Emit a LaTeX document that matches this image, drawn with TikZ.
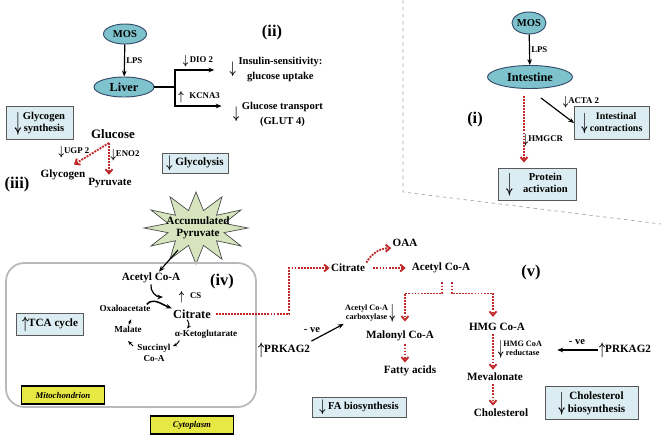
\documentclass[tikz,border=0pt]{standalone}
\usepackage{graphicx}
\usepackage{fontspec}
\setmainfont{Liberation Serif}
\usetikzlibrary{arrows.meta,calc,shapes.geometric}

\definecolor{lightblue}{rgb}{0.86,0.93,0.95}
\definecolor{organblue}{rgb}{0.49,0.76,0.80}
\definecolor{organline}{rgb}{0.20,0.30,0.42}
\definecolor{pathred}{rgb}{0.75,0.16,0.16}
\definecolor{burstgreen}{rgb}{0.84,0.90,0.74}
\definecolor{tagyellow}{rgb}{0.91,0.91,0.27}

\newcommand{\arrdn}{\raisebox{-0.15em}{\scalebox{1}[1.6]{\boldmath$\downarrow$}}}
\newcommand{\arrup}{\raisebox{-0.15em}{\scalebox{1}[1.6]{\boldmath$\uparrow$}}}
\newcommand{\bigdn}{\raisebox{-0.45em}{\scalebox{1}[2.5]{\boldmath$\downarrow$}}}
\newcommand{\twoline}[2]{\begin{tabular}{@{}c@{}}#1\\#2\end{tabular}}

\tikzset{
  labeltxt/.style={font=\bfseries\fontsize{9.5}{10.5}\selectfont, inner sep=1pt},
  tinytxt/.style={font=\bfseries\fontsize{7.5}{8.5}\selectfont, inner sep=1pt},
  cycletxt/.style={font=\bfseries\fontsize{7.8}{9}\selectfont, inner sep=1pt},
  paneltxt/.style={font=\bfseries\fontsize{14}{16}\selectfont, inner sep=1pt},
  organ/.style={shape=ellipse, draw=organline, fill=organblue, line width=0.8pt, inner sep=0pt, font=\bfseries\fontsize{10.5}{12}\selectfont},
  infobox/.style={shape=rectangle, draw=gray!70!black, fill=lightblue, line width=0.8pt, inner sep=2pt, font=\bfseries\fontsize{9}{10.5}\selectfont},
  tagbox/.style={shape=rectangle, draw=black, fill=tagyellow, line width=1.2pt, font=\bfseries\itshape\fontsize{7.5}{9}\selectfont, minimum width=2.49cm, minimum height=0.54cm},
  mitobox/.style={shape=rectangle, draw=gray!55, line width=1.5pt, rounded corners=0.55cm},
  blk/.style={-{Stealth[length=5pt,width=4pt]}, line width=1pt},
  cyc/.style={-{Stealth[length=3.5pt,width=3pt]}, line width=0.8pt},
  reddot/.style={draw=pathred, densely dotted, line width=1.6pt, -{Straight Barb[length=3.5pt,width=6pt]}},
  sepline/.style={draw=gray!70, dashed, line width=0.6pt},
}

\begin{document}
\begin{tikzpicture}[x=0.03cm, y=-0.03cm]
        % \draw (0,0) node {};
        \useasboundingbox (0,0) rectangle (661,437);
        % (ii) liver
        \node[organ, minimum width=1.29cm, minimum height=0.6cm, font=\bfseries\fontsize{9}{10}\selectfont] (mos1) at (125,34) {MOS};
        \node[organ, minimum width=1.8cm, minimum height=0.6cm] (liver) at (124,87) {Liver};
        \path [blk] (mos1) edge node[tinytxt, right] {LPS} (liver);
        \coordinate (fork) at (175,87);
        \node[paneltxt] (p2) at (272,33) {(ii)};
        \node[labeltxt, font=\bfseries\fontsize{9}{12.5}\selectfont] (ins) at (276,69) {\arrdn\ \twoline{Insulin-sensitivity:}{glucose uptake}};
        \node[labeltxt, font=\bfseries\fontsize{9}{12.5}\selectfont] (glut) at (278,114) {\arrdn\ \twoline{Glucose transport}{(GLUT 4)}};
        \node[tinytxt] (dio) at (198,61) {\arrdn\,DIO 2};
        \node[tinytxt] (kcna) at (199,97) {\arrup KCNA3};
        \draw[line width=1pt] (liver.east) -- (fork);
        \draw[blk] (fork) |- ($(ins.west)+(-14,1)$);
        \draw[blk] (fork) |- ($(glut.west)+(-10,-8)$);
        % (iii) glucose
        \node[infobox, minimum width=2.01cm, minimum height=0.99cm] (glysyn) at (40,123) {\bigdn\,\twoline{Glycogen}{synthesis}};
        \node[labeltxt, font=\bfseries\fontsize{11}{12}\selectfont] (glu) at (113,134) {Glucose};
        \node[labeltxt] (glyc) at (63,175) {Glycogen};
        \node[labeltxt] (pyr) at (110,183) {Pyruvate};
        \draw[reddot] ($(glu.south)+(-4,3)$) -- ($(glyc.north)+(11,-4)$);
        \draw[reddot] ($(glu.south)+(-4,3)$) -- ($(pyr.north)+(-1,-2)$);
        \node[tinytxt] (ugp) at (74,152) {\arrdn UGP 2};
        \node[tinytxt] (eno) at (125,155) {\arrdn ENO2};
        \node[infobox, minimum width=1.98cm, minimum height=0.6cm, font=\bfseries\fontsize{9.5}{10}\selectfont] (glycol) at (195,163) {\arrdn\ Glycolysis};
        \node[paneltxt] (p3) at (17,185) {(iii)};
        % accumulated pyruvate
        \draw[fill=burstgreen, draw=gray!60!black, line width=0.6pt] ($(196,228)+(0:52 and 36)$)
          \foreach \a in {15,45,...,345} { -- ($(196,228)+(\a:29 and 18)$) -- ($(196,228)+(\a+15:52 and 36)$) } -- cycle;
        \node[labeltxt] (accum) at (198,228) {\twoline{Accumulated}{Pyruvate}};
        \coordinate (burstpt) at (178,250);
        % (iv) mitochondrion
        \node[mitobox, minimum width=7.5cm, minimum height=4.32cm] (mito) at (131,335) {};
        \node[labeltxt] (acmito) at (151,278) {Acetyl Co-A};
        \node[paneltxt] (p4) at (222,282) {(iv)};
        \node[tinytxt] (cs) at (190,297) {\arrup CS};
        \node[labeltxt, font=\bfseries\fontsize{10.5}{12}\selectfont] (cit) at (192,314) {Citrate};
        \node[cycletxt] (oxa) at (125,308) {Oxaloacetate};
        \node[cycletxt] (mal) at (128,329) {Malate};
        \node[cycletxt] (akg) at (206,334) {α-Ketoglutarate};
        \node[cycletxt] (succ) at (154,354) {\twoline{Succinyl}{Co-A}};
        \coordinate (join) at (163,297);
        \draw[blk] (burstpt) -- ($(acmito.north)+(8,0)$);
        \draw[blk] (acmito.south) to[out=-100,in=180] (join);
        \draw[blk, line width=1.3pt] ($(oxa.north east)+(-5,1)$) to[out=50,in=160] (cit.north west);
        \draw[cyc] ($(cit.south)+(-5,0)$) to[bend left=40] ($(akg.north)+(-19,0)$);
        \draw[cyc] ($(akg.south west)+(6,1)$) to[bend left=20] ($(succ.north east)+(1,4)$);
        \draw[cyc] (succ.north west) ++(-3,4) -- ++(-5,-5);
        \draw[cyc] (mal.north) ++(1,0) -- ++(2,-5);
        \node[infobox, minimum width=2.01cm, minimum height=0.66cm, font=\bfseries\fontsize{9.5}{10}\selectfont] (tca) at (50,324) {\arrup TCA cycle};
        \node[tagbox] (mitotag) at (63,395) {Mitochondrion};
        \node[tagbox] (cytotag) at (192,425) {Cytoplasm};
        % (v) cytoplasm
        \node[labeltxt] (citc) at (348,268) {Citrate};
        \node[labeltxt] (oaa) at (405,243) {OAA};
        \node[labeltxt] (accyt) at (441,268) {Acetyl Co-A};
        \draw[reddot, shorten <=3pt] (cit.east) -- ++(77,0) |- (citc.west);
        \draw[reddot] (citc.north east) to[bend left=30] (oaa.south west);
        \draw[reddot, shorten <=6pt, shorten >=4pt] (citc) -- (accyt);
        \node[tinytxt, font=\bfseries\fontsize{7}{8}\selectfont] (accarb) at (370,313) {\twoline{Acetyl Co-A}{carboxylase}\,\bigdn};
        \node[labeltxt] (malonyl) at (400,336) {Malonyl Co-A};
        \node[labeltxt] (fatty) at (410,371) {Fatty acids};
        \node[labeltxt] (prk1) at (284,350) {\arrup PRKAG2};
        \node[labeltxt, font=\bfseries\fontsize{9}{10}\selectfont] (neg1) at (312,330) {- ve};
        \draw[blk] (prk1.north east) -- (accarb.south west);
        \draw[reddot] ($(malonyl.south)+(5,2)$) -- ($(fatty.north)+(-5,-2)$);
        \node[infobox, minimum width=2.82cm, minimum height=0.6cm] (fabio) at (359,407) {\arrdn\ FA biosynthesis};
        \node[paneltxt] (p5) at (531,273) {(v)};
        \node[labeltxt] (hmg) at (497,327) {HMG Co-A};
        \draw[reddot] ($(accyt.south)+(1,8)$) -- ++(0,11) -| ($(malonyl.north)+(5,-8)$);
        \draw[reddot] ($(accyt.south)+(11,8)$) -- ++(0,11) -| ($(hmg.north)+(-4,-5)$);
        \node[tinytxt, font=\bfseries\fontsize{7}{8}\selectfont] (hmgr) at (520,349) {\bigdn\twoline{HMG CoA}{reductase}};
        \node[labeltxt] (meval) at (495,377) {Mevalonate};
        \node[labeltxt] (chol) at (501,413) {Cholesterol};
        \draw[reddot] ($(hmg.south)+(-4,2)$) -- ($(meval.north)+(-2,-2)$);
        \draw[reddot] ($(meval.south)+(-2,2)$) -- ($(chol.north)+(-8,-2)$);
        \node[labeltxt] (prk2) at (625,350) {\arrup PRKAG2};
        \node[labeltxt, font=\bfseries\fontsize{9}{10}\selectfont] (neg2) at (577,342) {- ve};
        \draw[blk] (prk2.west) -- ($(hmgr.east)+(14,1)$);
        \node[infobox, minimum width=2.79cm, minimum height=0.99cm, font=\bfseries\fontsize{9.5}{11}\selectfont] (cholbio) at (592,403) {\bigdn\ \twoline{Cholesterol}{biosynthesis}};
        % (i) intestine
        \draw[sepline] (403,0) -- (403,192) -- (661,224);
        \node[organ, minimum width=1.02cm, minimum height=0.66cm, font=\bfseries\fontsize{9}{10}\selectfont] (mos2) at (529,23) {MOS};
        \node[organ, minimum width=2.55cm, minimum height=0.69cm] (intest) at (530,77) {Intestine};
        \path [blk] (mos2) edge node[tinytxt, right] {LPS} (intest);
        \node[paneltxt] (p1) at (475,120) {(i)};
        \node[tinytxt] (acta) at (581,102) {\arrdn ACTA 2};
        \node[tinytxt] (hmgcr) at (543,140) {\arrdn HMGCR};
        \node[infobox, minimum width=2.25cm, minimum height=0.99cm, font=\bfseries\fontsize{8.5}{10.5}\selectfont] (contr) at (612,123) {\bigdn\ \twoline{Intestinal}{contractions}};
        \node[infobox, minimum width=2.34cm, minimum height=0.96cm] (protein) at (537,184) {\bigdn\quad\twoline{Protein}{activation}};
        \draw[blk] ($(intest.south)+(11,9)$) -- (contr.west);
        \draw[reddot] ($(intest.south)+(-6,7)$) -- ($(protein.north)+(-13,-5)$);
    \end{tikzpicture}
\end{document}
